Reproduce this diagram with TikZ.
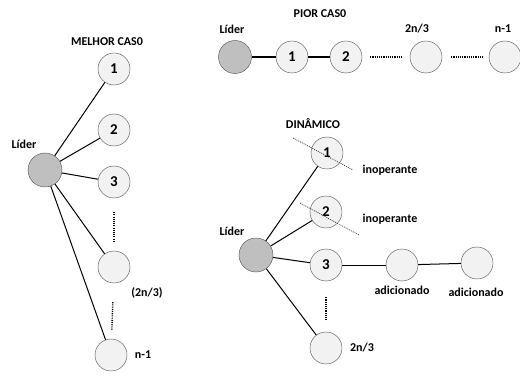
\documentclass[tikz,border=0pt]{standalone}
\usepackage{fontspec}
\setmainfont{Carlito}
\usetikzlibrary{arrows,positioning,calc}

\begin{document}
\begin{tikzpicture}[
		x = 1pt, y = -1pt, % pixel grid of the picture
		node distance = 55pt, % distance between nodes
		semithick % line style
	]
	
	\tikzstyle{membro}=[
	circle,
	draw = black!70,
	thin,
	fill = gray!10,
	minimum size = 32pt,
	inner sep = 0pt,
	font = \fontsize{15}{17}\selectfont\bfseries
	]
	\tikzstyle{lider}=[membro, fill = gray!50, minimum size = 34pt]
	\tikzstyle{rotulo}=[font = \fontsize{12}{14}\selectfont\bfseries, inner sep = 1pt]
	\tikzstyle{ligacao}=[draw = black, line width = 1pt]
	\tikzstyle{pontos}=[draw = black, line width = 1.4pt, dash pattern = on 1.1pt off 1.1pt]
	\tikzstyle{riscado}=[draw = black!80, line width = 0.7pt, dash pattern = on 1pt off 1pt]
	
	\useasboundingbox (0,0) rectangle (520,377);
	
	% melhor caso
	\node[rotulo] (t1) at (107,42) {MELHOR CAS0};
	\node[lider] (l1) at (45,170) {};
	\node[rotulo] (l1t) at (24,144) {Líder};
	\node[membro] (m1) at (114,69) {1};
	\node[membro, below of = m1, yshift=-6pt] (m2) {2};
	\node[membro, below of = m2, yshift=3pt] (m3) {3};
	\node[membro, below of = m3, yshift=-30pt] (m4) {};
	\node[membro, below of = m4, xshift=-3pt, yshift=-33pt] (m5) {};
	\node[rotulo] (m4t) at (147,293) {(2n/3)};
	\node[rotulo] (m5t) at (143,355) {n-1};
	
	\path[ligacao] (l1) edge (m1) edge (m2) edge (m3) edge (m4) edge (m5);
	\path[pontos, shorten <= 14pt, shorten >= 9pt] (m3) edge (m4);
	\path[pontos, shorten <= 19pt, shorten >= 9pt] (m4) edge (m5);
	
	% pior caso
	\node[rotulo] (t2) at (320,14) {PIOR CAS0};
	\node[lider, minimum size = 33pt] (l2) at (235,57) {};
	\node[rotulo] (l2t) at (232,29) {Líder};
	\node[membro, right of = l2, xshift=2pt] (p1) {1};
	\node[membro, right of = p1, xshift=-1pt] (p2) {2};
	\node[membro, right of = p2, xshift=25pt] (p3) {};
	\node[membro, right of = p3, xshift=24pt] (p4) {};
	\node[rotulo] (p3t) at (417,29) {2n/3};
	\node[rotulo] (p4t) at (503,29) {n-1};
	
	\path[ligacao, line width = 1.6pt] (l2) edge (p1) (p1) edge (p2);
	\path[pontos, shorten <= 8pt, shorten >= 8pt] (p2) edge (p3);
	\path[pontos, shorten <= 9pt, shorten >= 6pt] (p3) edge (p4);
	
	% dinamico
	\node[rotulo] (t3) at (313,124) {DINÂMICO};
	\node[lider] (l3) at (256,255) {};
	\node[rotulo] (l3t) at (232,231) {Líder};
	\node[membro] (d1) at (327,153) {1};
	\node[membro] (d2) at (326,212) {2};
	\node[membro] (d3) at (326,265) {3};
	\node[membro] (d4) at (326,348) {};
	\node[membro, right of = d3, xshift=21pt] (a1) {};
	\node[membro, right of = a1, xshift=20pt, yshift=2pt] (a2) {};
	\node[rotulo] (d1t) at (390,170) {inoperante};
	\node[rotulo] (d2t) at (390,219) {inoperante};
	\node[rotulo] (a1t) at (402,290) {adicionado};
	\node[rotulo] (a2t) at (476,292) {adicionado};
	\node[rotulo] (d4t) at (362,348) {2n/3};
	
	\path[ligacao] (l3) edge (d1) edge (d2) edge (d3) edge (d4);
	\path[ligacao] (d3) edge (a1) (a1) edge (a2);
	\path[pontos, shorten <= 16pt, shorten >= 11pt] (d3) edge (d4);
	\draw[riscado] (d1) ++(-34,-15) -- ++(60,32);
	\draw[riscado] (d2) ++(-26,-9) -- ++(59,32);
\end{tikzpicture}
\end{document}
